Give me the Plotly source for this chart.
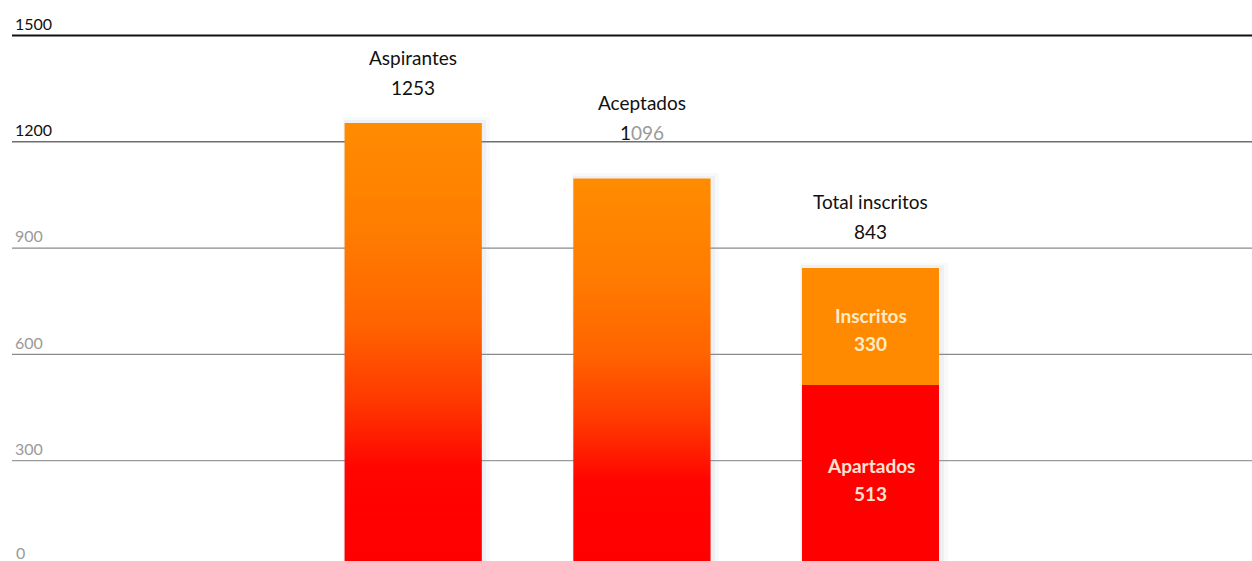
import plotly.graph_objects as go

# ---- data ----
categories = ["Aspirantes", "Aceptados", "Total inscritos"]
totals = [1253, 1096, 843]
apartados = 513
inscritos = 330
seg_names = ["Inscritos", "Apartados"]
tick_vals = [300, 600, 900, 1200, 1500]
tick_labels = ["300", "600", "900", "1200", "1500"]

# ---- style ----
FONT = "Lato"
ORANGE = "#FF8A00"
RED = "#FF0000"
BAR_W = 0.6
xpos = list(range(len(categories)))
grad_scale = [[0.0, "#FF0000"], [0.22, "#FF0400"], [0.38, "#FF3A00"],
              [0.55, "#FF6400"], [0.75, "#FF7C00"], [1.0, "#FF8C00"]]
value_shift = [35, 46, 37]   # px above bar top for value line
name_gap = 30               # px between name and value lines
grid_style = {300: ("#9a9a9a", 1.2), 600: ("#8a8a8a", 1.2), 900: ("#8a8a8a", 1.2),
              1200: ("#6f6f6f", 1.5), 1500: ("#111111", 2)}

fig = go.Figure()

# horizontal reference lines (drawn beneath the bars)
for t in tick_vals:
    col, w = grid_style[t]
    fig.add_shape(type="line", xref="paper", x0=0, x1=1, yref="y", y0=t, y1=t,
                  line=dict(color=col, width=w), layer="below")

# soft shadows (two faint layers)
for i, v in enumerate(totals):
    fig.add_trace(go.Bar(x=[xpos[i] + 0.015], y=[v + 16], width=BAR_W + 0.045,
                         marker=dict(color="rgba(140,150,175,0.06)", line=dict(width=0)),
                         hoverinfo="skip", showlegend=False))
    fig.add_trace(go.Bar(x=[xpos[i] + 0.008], y=[v + 8], width=BAR_W + 0.022,
                         marker=dict(color="rgba(140,150,175,0.09)", line=dict(width=0)),
                         hoverinfo="skip", showlegend=False))

# gradient bars (first two)
for i in range(2):
    c, v = xpos[i], totals[i]
    x0, x1 = c - BAR_W / 2, c + BAR_W / 2
    fig.add_trace(go.Scatter(
        x=[x0, x0, x1, x1, x0], y=[0, v, v, 0, 0],
        mode="lines", line=dict(width=0), fill="toself",
        fillgradient=dict(type="vertical", colorscale=grad_scale, start=0, stop=v),
        name=categories[i], hoverinfo="skip", showlegend=False))

# stacked third bar
fig.add_trace(go.Bar(x=[xpos[2]], y=[apartados], width=BAR_W, base=0,
                     marker=dict(color=RED, line=dict(width=0)),
                     name=seg_names[1], showlegend=False))
fig.add_trace(go.Bar(x=[xpos[2]], y=[inscritos], width=BAR_W, base=apartados,
                     marker=dict(color=ORANGE, line=dict(width=0)),
                     name=seg_names[0], showlegend=False))

# labels above bars
value_texts = [str(totals[0]),
               "<span style='color:#111'>1</span><span style='color:#9a9a9a'>096</span>",
               str(totals[2])]
for i, v in enumerate(totals):
    fig.add_annotation(x=xpos[i], y=v, yref="y", xref="x", text=value_texts[i],
                       showarrow=False, yanchor="middle", yshift=value_shift[i],
                       font=dict(family=FONT, size=19, color="#111"))
    fig.add_annotation(x=xpos[i], y=v, yref="y", xref="x", text=categories[i],
                       showarrow=False, yanchor="middle", yshift=value_shift[i] + name_gap,
                       font=dict(family=FONT, size=19, color="#111"))

# labels inside stacked segments
segs = [(seg_names[0], inscritos, apartados + inscritos / 2, "#FFEBC8"),
        (seg_names[1], apartados, apartados / 2, "#FFE2D2")]
for name, val, mid, col in segs:
    fig.add_annotation(x=xpos[2], y=mid, text=name, showarrow=False, yanchor="middle",
                       yshift=11, font=dict(family=FONT, size=19, color=col, weight="bold"))
    fig.add_annotation(x=xpos[2], y=mid, text=str(val), showarrow=False, yanchor="middle",
                       yshift=-17, font=dict(family=FONT, size=19, color=col, weight="bold"))

# zero label (axis bottom is cropped)
fig.add_annotation(xref="paper", x=0, y=0, yref="paper", text="0", showarrow=False,
                   xanchor="left", yanchor="bottom", xshift=2, yshift=-3,
                   font=dict(family=FONT, size=16, color="#9a9a9a"))

tick_text = []
for t, lab in zip(tick_vals, tick_labels):
    col = "#111" if t >= 1200 else "#9a9a9a"
    tick_text.append(f"<span style='color:{col}'>{lab}</span>")

fig.update_layout(
    width=1252, height=561,
    margin=dict(l=12, r=0, t=0, b=0),
    paper_bgcolor="white", plot_bgcolor="white",
    barmode="overlay", bargap=0,
    showlegend=False,
    font=dict(family=FONT),
    xaxis=dict(range=[-1.754, 3.667], showgrid=False, zeroline=False,
               showticklabels=False, showline=False, fixedrange=True),
    yaxis=dict(range=[17, 1600], tickvals=tick_vals, ticktext=tick_text,
               ticklabelposition="inside top", showgrid=False,
               zeroline=False, showline=False, ticks="",
               tickfont=dict(family=FONT, size=16, color="#9a9a9a"), fixedrange=True),
)

fig.write_html("out.html", config={"displayModeBar": False},
               post_script="document.body.style.margin='0';")
